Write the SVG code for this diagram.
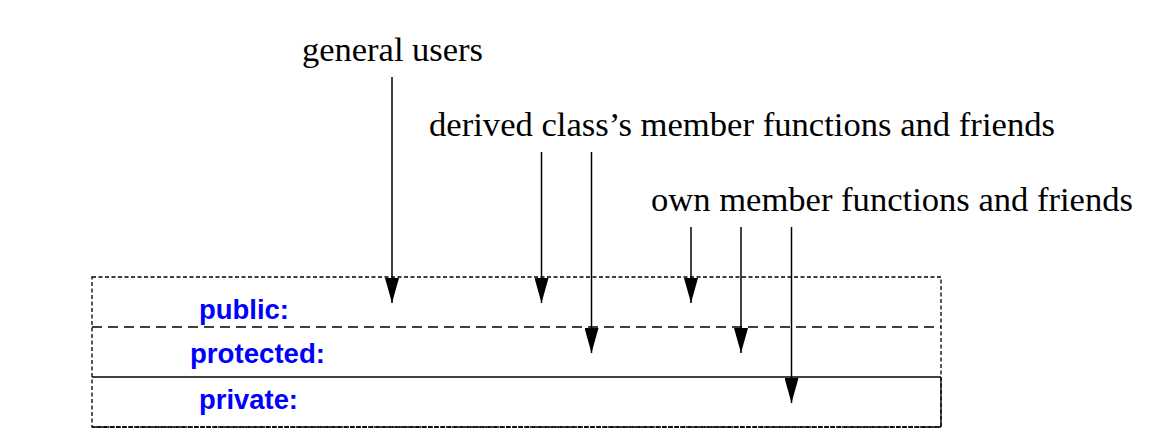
<svg xmlns="http://www.w3.org/2000/svg" width="1162" height="448" viewBox="0 0 1162 448">
<style>
.lbl{font-family:"Liberation Serif","Times New Roman",serif;font-size:34.5px;fill:#000}
.acc{font-family:"Liberation Sans",Arial,sans-serif;font-weight:bold;font-size:27.5px;fill:#0000ff}
.arr{stroke:#000;stroke-width:1.5;fill:none;marker-end:url(#ah)}
.box{fill:none;stroke:#000;stroke-width:1.3}
</style>
<defs>
<marker id="ah" viewBox="0 0 25 14" refX="25" refY="7" markerWidth="25" markerHeight="14" markerUnits="userSpaceOnUse" orient="auto">
<path d="M0,0 L25,7 L0,14 z" fill="#000"/>
</marker>
</defs>
<rect width="1162" height="448" fill="#fff"/>
<g id="class-box">
<rect class="box" x="92" y="277" width="849" height="150" stroke-dasharray="4,2.5"/>
<line class="box" x1="92" y1="327" x2="941" y2="327" stroke-dasharray="10,6"/>
<line class="box" x1="92" y1="377" x2="941" y2="377"/>
<line class="box" x1="941" y1="377" x2="941" y2="427"/>
<line class="box" x1="92" y1="427" x2="941" y2="427" stroke-dasharray="5,1"/>
</g>
<g id="section-public"><text class="acc" x="199" y="319" textLength="90" lengthAdjust="spacingAndGlyphs">public:</text></g>
<g id="section-protected"><text class="acc" x="190" y="363" textLength="135" lengthAdjust="spacingAndGlyphs">protected:</text></g>
<g id="section-private"><text class="acc" x="199" y="409" textLength="99" lengthAdjust="spacingAndGlyphs">private:</text></g>
<g id="general-users"><text class="lbl" x="302" y="61" textLength="181" lengthAdjust="spacingAndGlyphs">general users</text></g>
<g id="derived-class"><text class="lbl" x="429" y="136" textLength="626" lengthAdjust="spacingAndGlyphs">derived class’s member functions and friends</text></g>
<g id="own-members"><text class="lbl" x="651" y="210.5" textLength="482" lengthAdjust="spacingAndGlyphs">own member functions and friends</text></g>
<g id="connectors">
<line class="arr" x1="392" y1="77" x2="392" y2="303"/>
<line class="arr" x1="541.5" y1="152" x2="541.5" y2="303"/>
<line class="arr" x1="591.5" y1="152" x2="591.5" y2="353"/>
<line class="arr" x1="691" y1="227" x2="691" y2="303"/>
<line class="arr" x1="741" y1="227" x2="741" y2="353"/>
<line class="arr" x1="791.5" y1="227" x2="791.5" y2="403"/>
</g>
</svg>
